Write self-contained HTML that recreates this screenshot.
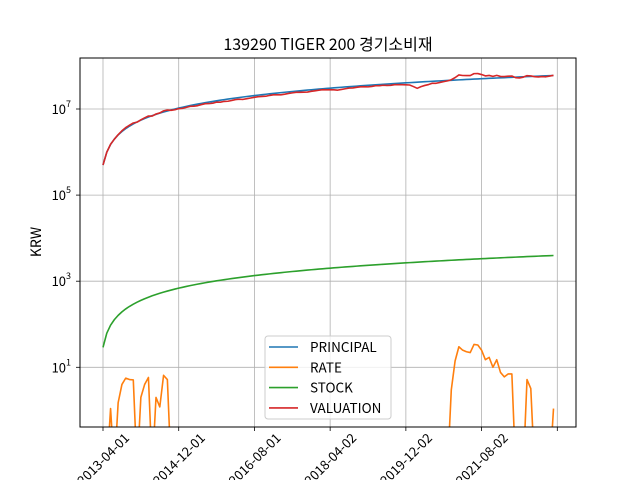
<!DOCTYPE html>
<html><head><meta charset="utf-8">
<style>
html,body{margin:0;padding:0;background:#fff;width:640px;height:480px;overflow:hidden;}
svg{display:block;font-family:"Noto Sans CJK KR","Liberation Sans",sans-serif;}
</style></head>
<body>
<svg id="chart" width="640" height="480" viewBox="0 0 640 480" xmlns="http://www.w3.org/2000/svg" overflow="hidden">
<rect x="0" y="0" width="640" height="480" fill="#fff"/>
<text x="328" y="50" font-size="16" text-anchor="middle" fill="#000">139290 TIGER 200 경기소비재</text>
<text x="0" y="0" font-size="14" text-anchor="middle" transform="translate(41,242) rotate(-90)" fill="#000">KRW</text>
<g id="grid"></g>
<g id="series"></g>
<rect x="80" y="58" width="496" height="369" fill="none" stroke="#000" stroke-width="1"/>
<g id="axes"></g>
<g id="legend">
<rect x="265" y="336" width="126" height="83" rx="3" fill="#fff" fill-opacity="0.8" stroke="#ccc"/>
</g>
</svg>
<script>
const tickLabels=["2013-04-01","2014-12-01","2016-08-01","2018-04-02","2019-12-02","2021-08-02"];
const tickMonths=[0,20,40,60,80,100,120];
const yDecades=[1,3,5,7];
// principal in units of 100,000 KRW
const principal=[5,10,15,20,25,30,35,40,45,50,55,60,65,70,75,80,85,90,95,100,105,110,115,120,125,130,135,140,145,150,155,160,165,170,175,180,185,190,195,200,205,210,215,220,225,230,235,240,245,250,255,260,265,270,275,280,285,290,295,300,305,310,315,320,325,330,335,340,345,350,355,360,365,370,375,380,385,390,395,400,405,410,415,420,425,430,435,440,445,450,455,460,465,470,475,480,485,490,495,500,505,510,515,520,525,530,535,540,545,550,555,560,565,570,575,580,585,590,595,600];
// rate in percent
const rate=[0,-1,1.1,-0.5,1.5,4,5.6,5.2,5.1,-1,2,4,5.8,-2,2,1.2,6.5,5.2,
-2,-4,-3,-6,-5,-4,-7,-8,-6,-5,
-8,-9,-7,-10,-9,-11,-10,-8,-9,-12,
-11,-10,-9,-8,-9,-10,-8,-7,-9,-11,
-10,-8,-7,-6,-8,-9,-10,-8,-7,-6,
-5,-7,-8,-10,-13,-11,-9,-7,-8,-6,
-5,-6,-8,-7,-5,-6,-5,-7,-8,-6,
-7,-8,-10,-12,-20,-28,-22,-18,-15,-10,-11,-8,-5,-2,
3,14,30,25,23,22,34,33,25,15,17,10,15,7.6,6,7,7,
-3,-5,-2,5.2,3.2,-2,-4,-3,-5,-2,1.1];
// valuation in units of 100,000 KRW
const valuation=principal.map((p,i)=>p*(1+rate[i]/100));
const stock=[29,62,95,128,161,194,227,260,293,326,359,392,425,458,491,524,557,590,623,656,689,722,755,788,821,854,887,920,953,986,1019,1052,1085,1118,1151,1184,1217,1250,1283,1316,1349,1382,1415,1448,1481,1514,1547,1580,1613,1646,1679,1712,1745,1778,1811,1844,1877,1910,1943,1976,2009,2042,2075,2108,2141,2174,2207,2240,2273,2306,2339,2372,2405,2438,2471,2504,2537,2570,2603,2636,2669,2702,2735,2768,2801,2834,2867,2900,2933,2966,2999,3032,3065,3098,3131,3164,3197,3230,3263,3296,3329,3362,3395,3428,3461,3494,3527,3560,3593,3626,3659,3692,3725,3758,3791,3824,3857,3890,3923,3956];

const NS="http://www.w3.org/2000/svg";
const X0=103, PX_PER_MONTH=454.3/120;
const xs=m=>X0+m*PX_PER_MONTH;
const ys=v=>367.3-43.05*(Math.log10(v)-1);
function mk(tag,attrs,parent){const e=document.createElementNS(NS,tag);for(const k in attrs)e.setAttribute(k,attrs[k]);parent.appendChild(e);return e;}
const grid=document.getElementById('grid'),axes=document.getElementById('axes'),series=document.getElementById('series');

tickMonths.forEach((m,i)=>{
  const x=xs(m);
  const g=mk('line',{x1:x,x2:x,y1:58,y2:427,stroke:'#b0b0b0','stroke-width':0.8},grid);
  
  
  const t=mk('line',{x1:x,x2:x,y1:427,y2:431,stroke:'#000','stroke-width':0.8},axes);
  
  
  if(i<tickLabels.length){
    const tx=mk('text',{x:0,y:5,'font-size':13,'text-anchor':'middle',transform:`translate(${x},${459}) rotate(-45)`,fill:'#000'},axes);
    tx.textContent=tickLabels[i];
    
    
  }
});
yDecades.forEach(d=>{
  const y=ys(Math.pow(10,d));
  const g=mk('line',{x1:80,x2:576,y1:y,y2:y,stroke:'#b0b0b0','stroke-width':0.8},grid);
  
  
  const t=mk('line',{x1:76,x2:80,y1:y,y2:y,stroke:'#000','stroke-width':0.8},axes);
  
  
  const tx=mk('text',{x:71,y:y+5,'font-size':13,'text-anchor':'end',fill:'#000'},axes);
  
  
  tx.textContent='10';
  const sup=mk('tspan',{dy:-7,'font-size':9},tx);
  sup.textContent=String(d);
});

function drawLine(vals,color,name){
  let d='',pen=false;
  vals.forEach((v,i)=>{
    if(!(v>0)){pen=false;return;}
    const x=xs(i).toFixed(2);
    let y=ys(v);
    if(y>440)y=440;
    d+=(pen?'L':'M')+x+' '+y.toFixed(2);
    pen=true;
  });
  const p=mk('path',{d:d,fill:'none',stroke:color,'stroke-width':1.6,'stroke-linejoin':'round'},series);
  
  
}
function drawRate(vals,color){
  let d='';
  vals.forEach((v,i)=>{
    const x=xs(i).toFixed(2);
    const y=v>0?ys(v):470;
    d+=(i?'L':'M')+x+' '+y.toFixed(2);
  });
  const cp=mk('clipPath',{id:'plotclip'},series);
  mk('rect',{x:80,y:58,width:496,height:369},cp);
  const p=mk('path',{d:d,fill:'none',stroke:color,'stroke-width':1.6,'stroke-linejoin':'round','clip-path':'url(#plotclip)'},series);
  
  
}
drawLine(principal.map(v=>v*1e5),'#1f77b4','principal-line');
drawRate(rate,'#ff7f0e');
drawLine(stock,'#2ca02c','stock-line');
drawLine(valuation.map(v=>v*1e5),'#d62728','valuation-line');

const legend=document.getElementById('legend');
[['PRINCIPAL','#1f77b4'],['RATE','#ff7f0e'],['STOCK','#2ca02c'],['VALUATION','#d62728']].forEach((e,i)=>{
  const y=347+i*20.3;
  const g=mk('g',{},legend);
  
  
  mk('line',{x1:269,x2:298,y1:y,y2:y,stroke:e[1],'stroke-width':1.6},g);
  const t=mk('text',{x:310,y:y+5,'font-size':13.5,fill:'#000'},g);
  t.textContent=e[0];
});
</script>
</body></html>
